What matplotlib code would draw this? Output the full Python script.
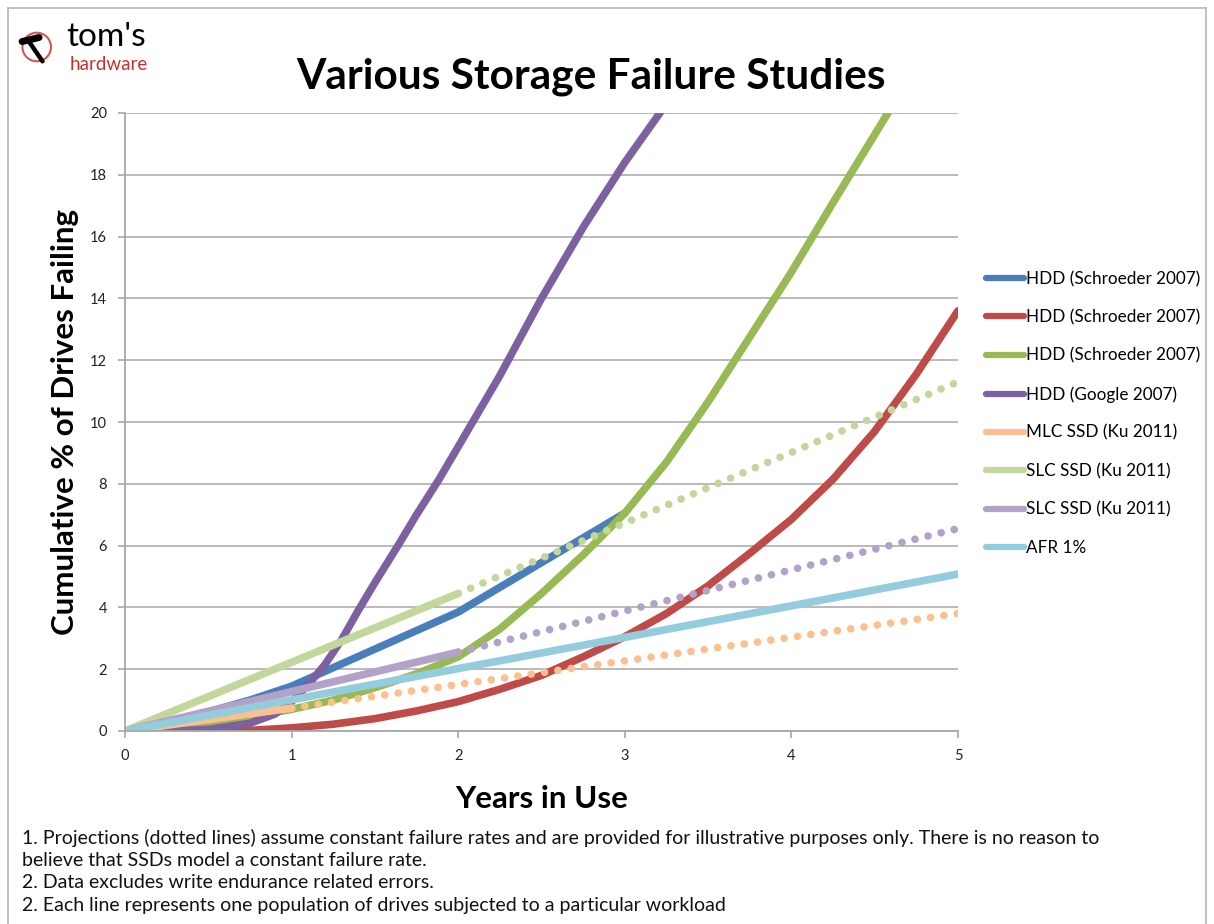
import matplotlib
matplotlib.use("Agg")
import matplotlib.pyplot as plt
from matplotlib.lines import Line2D
from matplotlib.patches import Circle

plt.rcParams['font.family'] = ['Lato', 'DejaVu Sans']

# --- data (years in use -> cumulative % failing) ---
hdd_blue_x = [0, 0.25, 0.5, 0.75, 1, 1.25, 1.5, 1.75, 2, 2.25, 2.5, 2.75, 3.0]
hdd_blue_y = [0, 0.3, 0.62, 1.0, 1.45, 2.05, 2.65, 3.25, 3.85, 4.65, 5.45, 6.25, 7.05]

hdd_red_x = [0, 0.5, 0.75, 1, 1.25, 1.5, 1.75, 2, 2.25, 2.5, 2.75, 3, 3.25, 3.5,
             3.75, 4, 4.25, 4.5, 4.75, 5]
hdd_red_y = [0, 0, 0.02, 0.1, 0.22, 0.4, 0.65, 0.95, 1.35, 1.8, 2.4, 3.05, 3.8, 4.7,
             5.75, 6.85, 8.15, 9.7, 11.55, 13.6]

hdd_green_x = [0, 0.25, 0.5, 0.75, 1, 1.25, 1.5, 1.75, 2, 2.25, 2.5, 2.75, 3, 3.25,
               3.5, 3.75, 4, 4.25, 4.5, 4.75]
hdd_green_y = [0, 0.08, 0.25, 0.45, 0.7, 1.0, 1.4, 1.85, 2.4, 3.3, 4.45, 5.7, 7.05, 8.7,
               10.65, 12.75, 14.85, 17.1, 19.3, 21.5]

hdd_google_x = [0, 0.25, 0.5, 0.75, 0.9, 1.0, 1.1, 1.2, 1.3, 1.4, 1.5, 1.65, 1.75, 1.88,
                2.0, 2.25, 2.5, 2.75, 3.0, 3.25, 3.4]
hdd_google_y = [0, 0, 0.05, 0.25, 0.55, 0.95, 1.5, 2.15, 2.95, 3.9, 4.8, 6.1, 7.0, 8.1,
                9.2, 11.5, 14.0, 16.3, 18.4, 20.3, 21.5]

mlc_x = [0, 1]
mlc_y = [0, 0.74]
mlc_proj_x = [1, 5]
mlc_proj_y = [0.74, 3.8]

slc_a_x = [0, 2]
slc_a_y = [0, 4.45]
slc_a_proj_x = [2, 5]
slc_a_proj_y = [4.45, 11.3]

slc_b_x = [0, 2]
slc_b_y = [0, 2.55]
slc_b_proj_x = [2, 5]
slc_b_proj_y = [2.55, 6.55]

afr_x = [0, 1, 2, 3, 4, 5]
afr_y = [0, 1.01, 2.02, 3.03, 4.05, 5.08]

labels = ['HDD (Schroeder 2007)', 'HDD (Schroeder 2007)', 'HDD (Schroeder 2007)',
          'HDD (Google 2007)', 'MLC SSD (Ku 2011)', 'SLC SSD (Ku 2011)',
          'SLC SSD (Ku 2011)', 'AFR 1%']
colors = ['#4A7EBB', '#BE4B48', '#98B954', '#7D60A0', '#FAC090', '#C3D69B',
          '#B3A2C7', '#93CDDD']

W, H = 1214, 924
fig = plt.figure(figsize=(W / 100, H / 100), dpi=100)
fig.patch.set_facecolor('white')


def fx(px):
    return px / W


def fy(py):
    return 1 - py / H


ax = fig.add_axes([fx(125), fy(731), fx(958) - fx(125), fy(113) - fy(731)])

lw = 5.5
dots = (0, (0.01, 1.75))

ax.plot(hdd_blue_x, hdd_blue_y, color=colors[0], lw=lw, label=labels[0], solid_capstyle='round')
ax.plot(hdd_red_x, hdd_red_y, color=colors[1], lw=lw, label=labels[1], solid_capstyle='round')
ax.plot(hdd_green_x, hdd_green_y, color=colors[2], lw=lw, label=labels[2], solid_capstyle='round')
ax.plot(hdd_google_x, hdd_google_y, color=colors[3], lw=lw, label=labels[3], solid_capstyle='round')

# projections (dotted) first so the solid parts sit on top
ax.plot(mlc_proj_x, mlc_proj_y, color=colors[4], lw=lw, ls=dots, dash_capstyle='round')
ax.plot(slc_a_proj_x, slc_a_proj_y, color=colors[5], lw=lw, ls=dots, dash_capstyle='round')
ax.plot(slc_b_proj_x, slc_b_proj_y, color=colors[6], lw=lw, ls=dots, dash_capstyle='round')

ax.plot(mlc_x, mlc_y, color=colors[4], lw=lw, label=labels[4], solid_capstyle='round')
ax.plot(slc_a_x, slc_a_y, color=colors[5], lw=lw, label=labels[5], solid_capstyle='round')
ax.plot(slc_b_x, slc_b_y, color=colors[6], lw=lw, label=labels[6], solid_capstyle='round')
ax.plot(afr_x, afr_y, color=colors[7], lw=lw, label=labels[7], solid_capstyle='round')

ax.set_xlim(0, 5)
ax.set_ylim(0, 20)
ax.set_xticks(range(0, 6))
ax.set_yticks(range(0, 21, 2))
ax.yaxis.grid(True, color='#B4B4B4', lw=1.3)
ax.set_axisbelow(True)
for s in ['top', 'right']:
    ax.spines[s].set_visible(False)
for s in ['left', 'bottom']:
    ax.spines[s].set_color('#A8A8A8')
    ax.spines[s].set_linewidth(1.3)
ax.tick_params(colors='#A8A8A8', labelcolor='#222222', labelsize=10.5, length=5, width=1.2)
ax.tick_params(axis='y', pad=8)
ax.tick_params(axis='x', pad=8)

ax.set_xlabel('Years in Use', fontsize=22.5, fontweight='bold', labelpad=16)
ax.set_ylabel('Cumulative % of Drives Failing', fontsize=22.5, fontweight='bold', labelpad=8)

fig.text(fx(591), fy(77), 'Various Storage Failure Studies', fontsize=30.5, fontweight='bold',
         ha='center', va='center')

handles = [Line2D([], [], color=c, lw=4.5, solid_capstyle='round') for c in colors]
fig.legend(handles, labels, loc='upper left', bbox_to_anchor=(fx(986), fy(271)),
           frameon=False, fontsize=12.3, handlelength=2.25, handletextpad=0.1,
           labelspacing=1.3, borderpad=0, borderaxespad=0)

notes = [
    '1. Projections (dotted lines) assume constant failure rates and are provided for illustrative purposes only. There is no reason to',
    'believe that SSDs model a constant failure rate.',
    '2. Data excludes write endurance related errors.',
    '2. Each line represents one population of drives subjected to a particular workload',
]
for i, line in enumerate(notes):
    fig.text(fx(22), fy(838 + i * 22.5), line, fontsize=14.05, ha='left', va='center',
             color='#111111')

# outer frame (left, top, right)
frame_col = '#B8B8B8'
fig.add_artist(Line2D([fx(8), fx(8)], [fy(8), 0], color=frame_col, lw=1.2))
fig.add_artist(Line2D([fx(8), fx(1206)], [fy(8), fy(8)], color=frame_col, lw=1.2))
fig.add_artist(Line2D([fx(1206), fx(1206)], [fy(8), 0], color=frame_col, lw=1.2))

# tom's hardware logo
logo = fig.add_axes([fx(18), fy(72), fx(52) - fx(18), fy(22) - fy(72)])
logo.set_xlim(0, 1)
logo.set_ylim(0, 1)
logo.set_aspect('equal')
logo.axis('off')
logo.add_patch(Circle((0.55, 0.5), 0.42, fill=False, ec='#D9534F', lw=1.5))
logo.plot([0.35, 0.72], [0.62, 0.08], color='black', lw=3.2, solid_capstyle='round')
logo.plot([0.12, 0.62], [0.66, 0.78], color='black', lw=5, solid_capstyle='round')
fig.text(fx(66), fy(46), "tom's", fontsize=24, ha='left', va='baseline', color='black')
fig.text(fx(70), fy(70), 'hardware', fontsize=13.5, ha='left', va='baseline', color='#C8312B')

fig.savefig('out.png', dpi=100, facecolor='white')
